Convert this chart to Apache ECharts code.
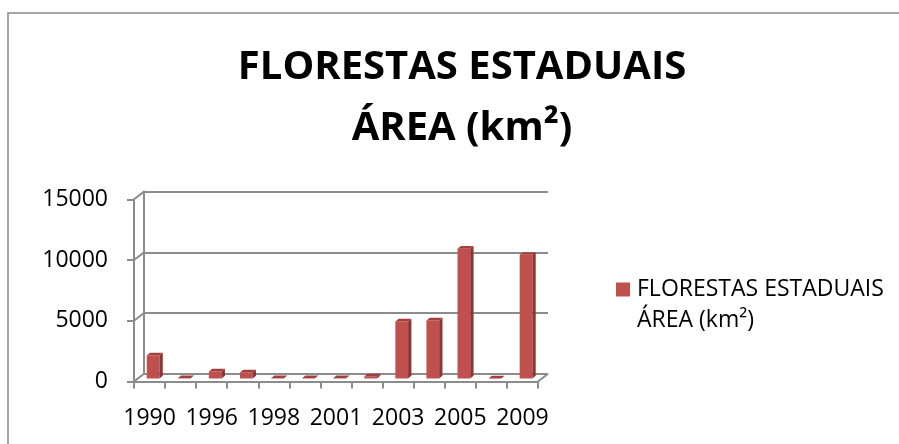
<!DOCTYPE html>
<html>
<head>
<meta charset="utf-8">
<script src="https://cdn.jsdelivr.net/npm/echarts@6/dist/echarts.min.js"></script>
<style>
  html, body { margin: 0; padding: 0; background: #fff; }
  #main { width: 899px; height: 444px; }
</style>
</head>
<body>
<div id="main"></div>
<script>
// anos (só os pares aparecem no eixo)
let anos = ['1990', '1994', '1996', '1997', '1998', '2000', '2001', '2002', '2003', '2004', '2005', '2006', '2009'];
// área em km²
let area = [1900, 20, 580, 500, 20, 20, 20, 170, 4700, 4780, 10680, 0, 10180];
let yTicks = [0, 5000, 10000, 15000];
let nomeSerie = 'FLORESTAS ESTADUAIS\nÁREA (km²)';

let chart = echarts.init(document.getElementById('main'));

// profundidade da parede do fundo
let DX = 10, DY = -7.7;

//barra 3D: frente, lado e topo
function renderBar(params, api) {
    let i = api.value(0);
    let topo = api.coord([i, api.value(1)]);
    let base = api.coord([i, 0]);
    let band = api.size([1, 0])[0];
    let x1 = topo[0] - band * 0.09;
    let x2 = x1 + band * 0.41;
    let yt = topo[1] - 3, yb = base[1] - 3;
    let dx = 3.3, dy = -2.7;
    return {
        type: 'group',
        children: [
            {
                type: 'rect',
                shape: {x: x1, y: yt, width: x2 - x1, height: yb - yt},
                style: {fill: '#C0504D'}
            },
            {
                type: 'polygon',
                shape: {points: [[x2, yb], [x2 + dx, yb + dy], [x2 + dx, yt + dy], [x2, yt]]},
                style: {fill: '#8C3634'}
            },
            {
                type: 'polygon',
                shape: {points: [[x1, yt], [x1 + dx, yt + dy], [x2 + dx, yt + dy], [x2, yt]]},
                style: {fill: '#A33F3C'}
            }
        ]
    };
}

//diagonais entre a frente e a parede do fundo
function renderFrame(params, api) {
    let cs = params.coordSys;
    let y = api.coord([0, api.value(0)])[1];
    let lines = [{
        type: 'line',
        shape: {x1: cs.x, y1: y, x2: cs.x + DX, y2: y + DY},
        style: {stroke: '#8c8c8c', lineWidth: 2}
    }];
    if (api.value(0) === 0) {
        lines.push({
            type: 'line',
            shape: {x1: cs.x + cs.width, y1: y, x2: cs.x + cs.width + DX, y2: y + DY},
            style: {stroke: '#8c8c8c', lineWidth: 2}
        });
    }
    return {type: 'group', children: lines};
}

let font = 'Open Sans';

let option = {
    backgroundColor: '#fff',
    animation: false,
    title: {
        text: 'FLORESTAS ESTADUAIS\nÁREA (km²)',
        left: 462,
        top: 37,
        padding: 0,
        textAlign: 'center',
        textStyle: {
            fontFamily: font,
            fontWeight: 'bold',
            fontSize: 40,
            lineHeight: 61,
            color: '#000'
        }
    },
    legend: {
        left: 616,
        top: 243,
        padding: 0,
        itemWidth: 14,
        itemHeight: 14,
        data: [{name: nomeSerie, icon: 'rect', itemStyle: {color: '#C0504D'}}],
        //linha vazia em cima para o ícone ficar na primeira linha
        formatter: function (name) { return '\n' + name; },
        textStyle: {
            fontFamily: font,
            fontSize: 23,
            lineHeight: 31,
            color: '#000',
            padding: [0, 0, 0, 2]
        }
    },
    graphic: [{
        type: 'rect',
        shape: {x: 8, y: 13, width: 895, height: 500},
        style: {fill: 'none', stroke: '#8a8a8a', lineWidth: 1.5},
        silent: true
    }],
    grid: [
        //frente
        {left: 134, right: 361, top: 199.3, bottom: 62.5},
        //fundo
        {left: 144, right: 351, top: 191.6, bottom: 70.2}
    ],
    xAxis: [
        {
            type: 'category',
            gridIndex: 0,
            data: anos,
            axisLine: {lineStyle: {color: '#8c8c8c', width: 2}},
            axisTick: {show: true, interval: 0, length: 7, lineStyle: {color: '#8c8c8c', width: 2}},
            axisLabel: {interval: 1, margin: 25, fontFamily: font, fontSize: 23, color: '#000'}
        },
        {
            type: 'category',
            gridIndex: 1,
            data: anos,
            axisLine: {show: false},
            axisTick: {show: false},
            axisLabel: {show: false}
        }
    ],
    yAxis: [
        {
            type: 'value',
            gridIndex: 0,
            min: 0,
            max: 15000,
            interval: 5000,
            axisLine: {show: true, lineStyle: {color: '#8c8c8c', width: 2}},
            axisTick: {show: true, length: 7, lineStyle: {color: '#8c8c8c', width: 2}},
            splitLine: {show: false},
            axisLabel: {
                margin: 26,
                fontFamily: font,
                fontSize: 23,
                color: '#000',
                formatter: function (v) { return String(v); }
            }
        },
        {
            type: 'value',
            gridIndex: 1,
            min: 0,
            max: 15000,
            interval: 5000,
            axisLine: {show: true, lineStyle: {color: '#8c8c8c', width: 2}},
            axisTick: {show: false},
            axisLabel: {show: false},
            splitLine: {show: true, lineStyle: {color: '#8c8c8c', width: 2}}
        }
    ],
    series: [
        {
            type: 'custom',
            name: 'moldura',
            xAxisIndex: 0,
            yAxisIndex: 0,
            silent: true,
            renderItem: renderFrame,
            data: yTicks.map(function (v) { return [v]; }),
            encode: {y: 0}
        },
        {
            type: 'custom',
            name: nomeSerie,
            xAxisIndex: 0,
            yAxisIndex: 0,
            renderItem: renderBar,
            data: area.map(function (v, i) { return [i, v]; }),
            encode: {x: 0, y: 1},
            z: 3
        }
    ]
};

chart.setOption(option);
</script>
</body>
</html>
